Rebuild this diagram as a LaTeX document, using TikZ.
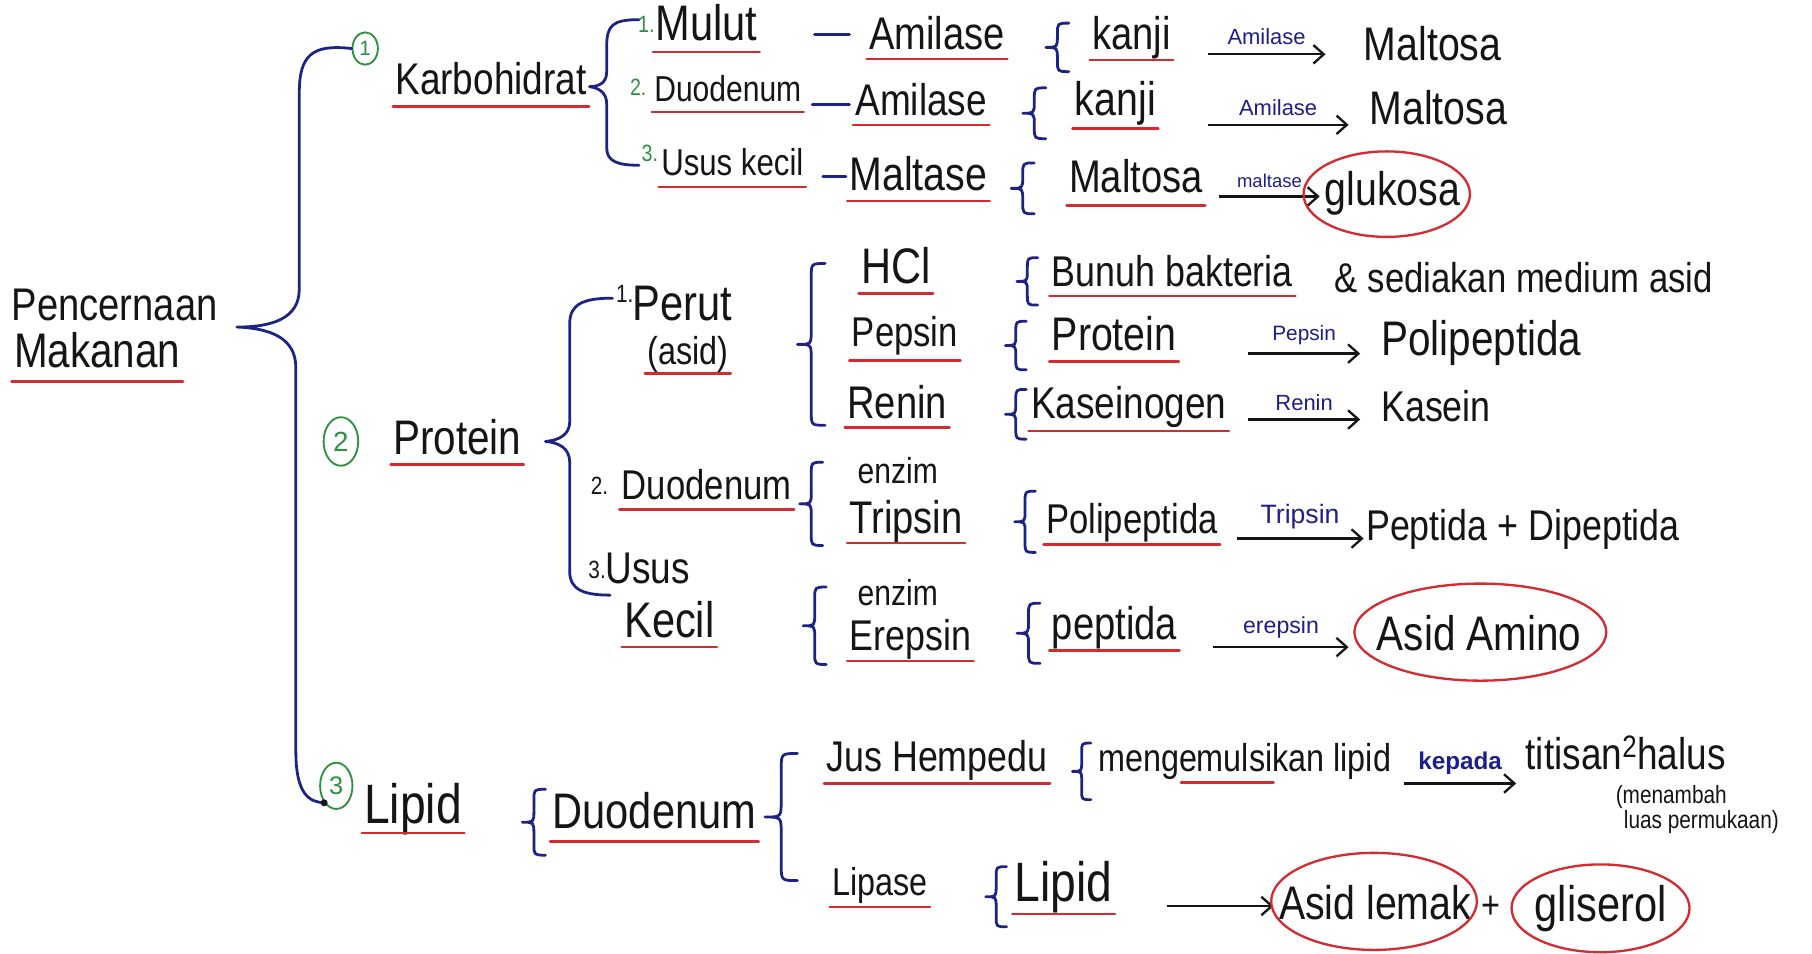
\documentclass[tikz,border=0pt]{standalone}
\usepackage{fontspec}
\setmainfont{Liberation Sans}
\usetikzlibrary{arrows.meta,shapes.geometric,calc}

\definecolor{ink}{HTML}{151515}
\definecolor{navy}{HTML}{1C2384}
\definecolor{redink}{HTML}{D42A30}
\definecolor{greenink}{HTML}{2E9140}
\definecolor{labelblue}{HTML}{1E1E8C}

\tikzset{
  fs/.style={font=\fontsize{#1}{#1}\selectfont},
  % handwriting is taller than it is wide: stretch the lettering upwards
  tall/.style={execute at begin node={\setbox0=\hbox\bgroup},
               execute at end node={\egroup\scalebox{1}[1.2]{\box0}}},
  txt/.style={inner sep=0pt, anchor=base west, text=ink, tall},
  word/.style={inner sep=0pt, text=ink, tall},
  bracepen/.style={draw=navy, line width=2.4pt, line cap=round, line join=round},
  redline/.style={draw=redink, line width=2.2pt, line cap=round},
  numcirc/.style={draw=greenink, ellipse, line width=1.6pt, inner sep=0pt, text=greenink},
  ring/.style={draw=redink, line width=2pt},
  rxarrow/.style={draw=ink, line width=2pt, -{Straight Barb[length=9pt,width=16pt,line width=2pt]}},
  enzlabel/.style={text=labelblue, inner sep=0pt, above=7pt},
  stub/.style={draw=navy, line width=2.6pt, line cap=round},
  num/.style={txt, text=greenink, fs=17},
  bnum/.style={txt, fs=18},
}

% red underline beneath a text node, #2 = distance below the baseline
\newcommand\rul[2]{\draw[redline] ($(#1.base west)+(-2,#2)$) -- ($(#1.base east)+(2,#2)$);}
% curly brace: tip x, top y, bottom y, half width
\newcommand\curly[4]{%
  \pgfmathsetmacro\bmid{(#2+#3)/2}%
  \draw[bracepen] (#1+2*#4,#2) .. controls (#1+#4,#2) .. (#1+#4,#2+#4)
    -- (#1+#4,\bmid-#4) .. controls (#1+#4,\bmid) .. (#1,\bmid)
    .. controls (#1+#4,\bmid) .. (#1+#4,\bmid+#4)
    -- (#1+#4,#3-#4) .. controls (#1+#4,#3) .. (#1+2*#4,#3);}

\begin{document}
\begin{tikzpicture}[x=1pt,y=-1pt]
\fill[white] (0,0) rectangle (1568,825);
\useasboundingbox (0,0) rectangle (1568,825);

% ---------- root ----------
\node[txt,fs=33] (pen) at (10,277) {Pencernaan};
\node[txt,fs=35] (mak) at (12,318) {Makanan};
\rul{mak}{12}
\coordinate (maintip) at (205,283);

\node[numcirc,minimum width=22,minimum height=28,fs=18] (c1) at (316,42) {1};
\node[numcirc,minimum width=30,minimum height=42,fs=24] (c2) at (295,382) {2};
\node[numcirc,minimum width=28,minimum height=40,fs=22] (c3) at (291,680) {3};

\draw[bracepen] (c1.west) .. controls (270,38) and (259,48) .. (259,80)
  -- (259,250) .. controls (259,276) and (235,283) .. (maintip)
  .. controls (233,284) and (256,292) .. (256,318)
  -- (256,650) .. controls (256,688) and (268,694) .. (c3.south west);
\fill[ink] (c3.south west) circle (3);

% ---------- 1. Karbohidrat ----------
\node[txt,fs=32] (karbo) at (342,82) {Karbohidrat};
\rul{karbo}{10}
\draw[bracepen] (553,17) .. controls (530,17) and (525,22) .. (525,40)
  -- (525,62) .. controls (525,72) and (518,75) .. (510,75)
  .. controls (518,76) and (525,80) .. (525,90)
  -- (525,128) .. controls (525,140) and (535,143) .. (553,143);

\node[num] (k1n) at (552,28) {1.};
\node[txt,fs=36] (mulut) at (567,35) {Mulut};
\rul{mulut}{10}
\node[num] (k2n) at (545,83) {2.};
\node[txt,fs=26] (kduo) at (566,88) {Duodenum};
\rul{kduo}{9}
\node[num] (k3n) at (555,140) {3.};
\node[txt,fs=27] (kusus) at (572,152) {Usus kecil};
\rul{kusus}{10}

\node[txt,fs=33] (amil1) at (752,43) {Amilase};
\rul{amil1}{8}
\node[txt,fs=32] (amil2) at (740,100) {Amilase};
\rul{amil2}{8}
\node[txt,fs=34] (maltase) at (735,165) {Maltase};
\rul{maltase}{9}
\draw[stub] (amil1.base west) ++(-47,-13) -- ++(30,0);
\draw[stub] (amil2.base west) ++(-37,-10) -- ++(32,0);
\draw[stub] (maltase.base west) ++(-23,-12) -- ++(20,0);

\curly{905}{20}{62}{10}
\node[txt,fs=33] (kanji1) at (945,43) {kanji};
\rul{kanji1}{9}
\coordinate (a1s) at (1045,47); \coordinate (a1e) at (1147,47);
\draw[rxarrow] (a1s) -- node[enzlabel,fs=19] {Amilase} (a1e);
\node[txt,fs=34] (malt1) at (1180,52) {Maltosa};

\curly{885}{76}{120}{10}
\node[txt,fs=34] (kanji2) at (930,100) {kanji};
\rul{kanji2}{11}
\coordinate (a2s) at (1045,108); \coordinate (a2e) at (1167,108);
\draw[rxarrow] (a2s) -- node[enzlabel,fs=19] {Amilase} (a2e);
\node[txt,fs=34] (malt2) at (1185,108) {Maltosa};

\curly{875}{141}{185}{10}
\node[txt,fs=33] (malt3) at (925,167) {Maltosa};
\rul{malt3}{11}
\coordinate (a3s) at (1055,170); \coordinate (a3e) at (1142,170);
\draw[rxarrow] (a3s) -- node[enzlabel,fs=16] {maltase} (a3e);
\node[word,fs=34] (gluk) at (1205,167) {glukosa};
\draw[ring] (1200,168) ellipse [x radius=72, y radius=37];

% ---------- 2. Protein ----------
\node[txt,fs=35] (prot) at (340,393) {Protein};
\rul{prot}{9}
\draw[bracepen] (530,258) .. controls (505,258) and (493,263) .. (493,280)
  -- (493,365) .. controls (493,376) and (484,381) .. (472,382)
  .. controls (484,383) and (493,388) .. (493,400)
  -- (493,495) .. controls (493,510) and (505,515) .. (528,515);

\node[bnum] (p1n) at (533,262) {1.};
\node[txt,fs=36] (perut) at (547,277) {Perut};
\node[txt,fs=28] (asid) at (560,315) {(asid)};
\rul{asid}{8}

\curly{690}{228}{368}{12}
\node[txt,fs=36] (hcl) at (745,245) {HCl};
\rul{hcl}{9}
\curly{880}{223}{264}{9}
\node[txt,fs=31] (bunuh) at (910,248) {Bunuh bakteria};
\rul{bunuh}{8}
\node[txt,fs=30] (medium) at (1155,253) {\& sediakan medium asid};

\node[txt,fs=30] (pepsin) at (737,300) {Pepsin};
\rul{pepsin}{12}
\curly{870}{278}{320}{9}
\node[txt,fs=34] (protr) at (910,303) {Protein};
\rul{protr}{10}
\coordinate (a4s) at (1080,306); \coordinate (a4e) at (1177,306);
\draw[rxarrow] (a4s) -- node[enzlabel,fs=18] {Pepsin} (a4e);
\node[txt,fs=35] (polip1) at (1195,308) {Polipeptida};

\node[txt,fs=33] (renin) at (733,362) {Renin};
\rul{renin}{8}
\curly{870}{337}{380}{9}
\node[txt,fs=32] (kasei) at (892,362) {Kaseinogen};
\rul{kasei}{11}
\coordinate (a5s) at (1080,363); \coordinate (a5e) at (1177,363);
\draw[rxarrow] (a5s) -- node[enzlabel,fs=19] {Renin} (a5e);
\node[txt,fs=31] (kasein) at (1195,365) {Kasein};

\node[bnum] (p2n) at (511,428) {2.};
\node[txt,fs=30] (pduo) at (538,432) {Duodenum};
\rul{pduo}{9}
\curly{692}{400}{472}{10}
\node[txt,fs=26] (enz1) at (742,418) {enzim};
\node[txt,fs=33] (trip) at (735,462) {Tripsin};
\rul{trip}{8}
\curly{878}{425}{478}{9}
\node[txt,fs=30] (polip2) at (905,462) {Polipeptida};
\rul{polip2}{9}
\coordinate (a6s) at (1070,466); \coordinate (a6e) at (1180,466);
\draw[rxarrow] (a6s) -- node[enzlabel,fs=23] {Tripsin} (a6e);
\node[txt,fs=31] (pepdi) at (1182,468) {Peptida + Dipeptida};

\node[bnum] (p3n) at (509,501) {3.};
\node[txt,fs=32] (pusus) at (524,505) {Usus};
\node[txt,fs=36] (kecil) at (540,552) {Kecil};
\rul{kecil}{8}
\curly{695}{508}{575}{10}
\node[txt,fs=26] (enz2) at (742,524) {enzim};
\node[txt,fs=31] (erep) at (735,563) {Erepsin};
\rul{erep}{9}
\curly{880}{522}{574}{10}
\node[txt,fs=33] (pept) at (910,553) {peptida};
\rul{pept}{10}
\coordinate (a7s) at (1050,560); \coordinate (a7e) at (1167,560);
\draw[rxarrow] (a7s) -- node[enzlabel,fs=20] {erepsin} (a7e);
\node[word,fs=35] (amino) at (1280,548) {Asid Amino};
\draw[ring] (1281,547) ellipse [x radius=109, y radius=42];

% ---------- 3. Lipid ----------
\node[txt,fs=40] (lipid) at (315,713) {Lipid};
\rul{lipid}{8}
\curly{452}{683}{740}{10}
\node[txt,fs=36] (lduo) at (478,717) {Duodenum};
\rul{lduo}{11}
\curly{662}{652}{762}{14}

\node[txt,fs=31] (jus) at (715,668) {Jus Hempedu};
\rul{jus}{10}
\curly{928}{643}{692}{8}
\node[txt,fs=28] (emul) at (950,668) {mengemulsikan lipid};
\draw[redline] ($(emul.base west)+(72,9)$) -- ++(80,0);
\coordinate (a8s) at (1215,678); \coordinate (a8e) at (1312,678);
\draw[rxarrow] (a8s) -- node[enzlabel,font=\bfseries\fontsize{21}{21}\selectfont] {kepada} (a8e);
\node[txt,fs=32] (titis) at (1320,666) {titisan\textsuperscript{2}halus};
\node[txt,fs=18] (tambah) at (1398,695) {(menambah};
\node[txt,fs=18] (luas) at (1405,717) {luas permukaan)};

\node[txt,fs=28] (lipase) at (720,775) {Lipase};
\rul{lipase}{10}
\curly{853}{750}{802}{9}
\node[txt,fs=40] (lipid2) at (878,780) {Lipid};
\rul{lipid2}{11}
\coordinate (a9s) at (1010,784); \coordinate (a9e) at (1102,784);
\draw[rxarrow] (a9s) -- (a9e);
\node[word,fs=34] (lemak) at (1190,781) {Asid lemak};
\draw[ring] (1189,780) ellipse [x radius=89, y radius=42];
\node[word,fs=28] (plus) at (1290,785) {+};
\node[word,fs=36] (glis) at (1385,786) {gliserol};
\draw[ring] (1385,786) ellipse [x radius=77, y radius=38];
\end{tikzpicture}
\end{document}
